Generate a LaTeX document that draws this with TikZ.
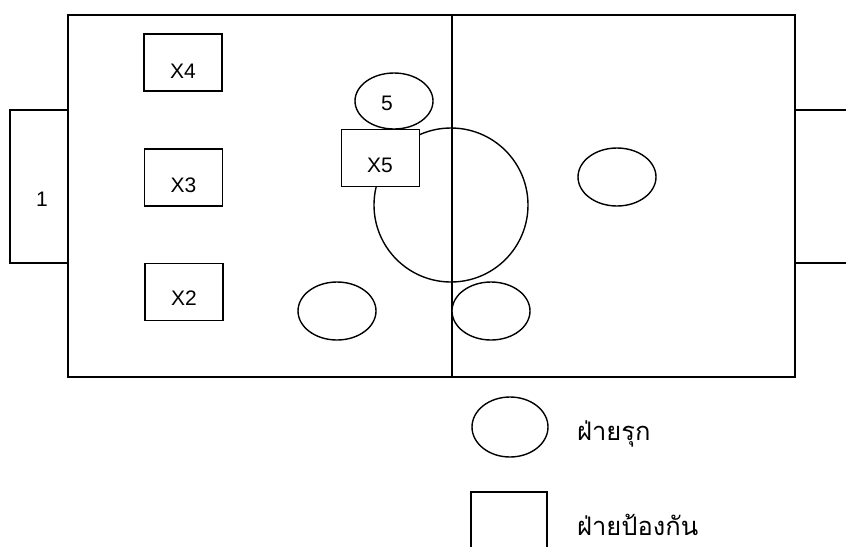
\documentclass[tikz,border=0pt]{standalone}
\usepackage{fontspec}
\setmainfont{Liberation Sans}
\newfontfamily\thaifont[Script=Thai]{Loma}
\usetikzlibrary{shapes.geometric}
\tikzset{
  ln/.style={line width=1.4pt},
  defbox/.style={draw, ln, fill=white, rectangle, minimum width=78pt, minimum height=57pt, inner sep=0pt},
  attk/.style={draw, ln, fill=white, ellipse, minimum width=78pt, minimum height=58pt, inner sep=0pt},
  lbl/.style={inner sep=0pt, font=\fontsize{21}{21}\selectfont},
  thai/.style={inner sep=0pt, anchor=base west, font=\thaifont\fontsize{25.5}{25.5}\selectfont}
}
\begin{document}
\begin{tikzpicture}[x=1pt,y=-1pt]
\useasboundingbox (0,0) rectangle (846,547);
% field
\draw[ln] (68,15) rectangle (795,377);
\draw[ln] (452,15) -- (452,377);
% left goal
\draw[ln] (68,110) -- (10,110) -- (10,263) -- (68,263);
\node[lbl] (one) at (42,199) {1};
% right goal
\draw[ln] (795,110) -- (846,110);
\draw[ln] (795,263) -- (846,263);
% centre circle
\draw[ln] (451,205) circle[radius=77];
% defenders
\node[defbox] (x4) at (183,62.5) {};
\node[lbl] (tx4) at (183,71) {X4};
\node[defbox] (x3) at (183.5,177.5) {};
\node[lbl] (tx3) at (183.5,185) {X3};
\node[defbox] (x2) at (184,292) {};
\node[lbl] (tx2) at (184,298) {X2};
\node[defbox] (x5) at (380.5,158) {};
\node[lbl] (tx5) at (380,165) {X5};
% attackers
\node[attk, minimum height=56pt] (a5) at (394,101) {};
\node[lbl] (t5) at (387,103) {5};
\node[attk] (ar) at (617,177) {};
\node[attk] (al) at (337,311) {};
\node[attk] (ac) at (491,311) {};
% legend
\node[attk, minimum width=76pt, minimum height=60pt] (la) at (510,427) {};
\node[thai] (lta) at (577,440) {ฝ่ายรุก};
\draw[ln] (471,547) -- (471,492) -- (547,492) -- (547,547);
\node[thai] (ltd) at (577,535) {ฝ่ายป้องกัน};
\end{tikzpicture}
\end{document}
